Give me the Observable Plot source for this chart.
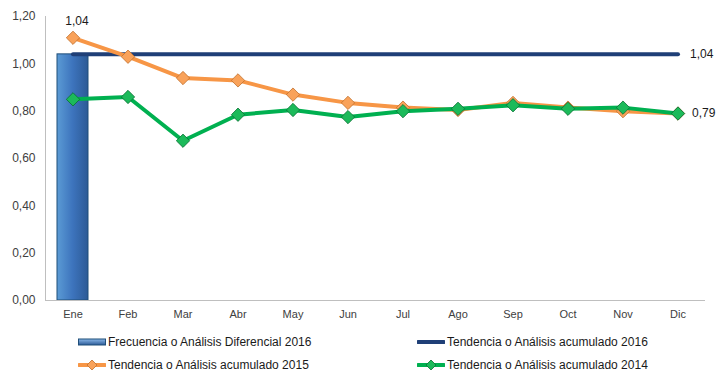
<!DOCTYPE html>
<html>
<head>
<meta charset="utf-8">
<script src="https://cdn.jsdelivr.net/npm/d3@7"></script>
<script src="https://cdn.jsdelivr.net/npm/@observablehq/plot@0.6"></script>
<style>
  html, body { margin: 0; padding: 0; background: #fff; }
  #chart { width: 721px; height: 385px; position: relative; font-family: "Liberation Sans", Arial, sans-serif; }
  .legend { position: relative; height: 55px; font-size: 12px; color: #1a1a1a; }
  .item { position: absolute; display: flex; align-items: center; white-space: nowrap; }
  .item svg { margin-right: 2px; }
</style>
</head>
<body>
<div id="chart"></div>
<script>
const months = ["Ene","Feb","Mar","Abr","May","Jun","Jul","Ago","Sep","Oct","Nov","Dic"];
const freq2016 = [1.04, null, null, null, null, null, null, null, null, null, null, null];
const acum2016 = [1.04, 1.04, 1.04, 1.04, 1.04, 1.04, 1.04, 1.04, 1.04, 1.04, 1.04, 1.04];
const acum2015 = [1.11, 1.03, 0.94, 0.93, 0.87, 0.835, 0.815, 0.805, 0.835, 0.815, 0.80, 0.79];
const acum2014 = [0.85, 0.86, 0.675, 0.785, 0.805, 0.775, 0.80, 0.81, 0.825, 0.81, 0.815, 0.79];
const yTicks = [0, 0.2, 0.4, 0.6, 0.8, 1.0, 1.2];
const seriesNames = ["Frecuencia o Análisis Diferencial 2016", "Tendencia o Análisis acumulado 2016",
                     "Tendencia o Análisis acumulado 2015", "Tendencia o Análisis acumulado 2014"];

const fmt = d => d3.format(".2f")(d).replace(".", ",");
const bars = months.map((m, i) => ({m, v: freq2016[i]})).filter(d => d.v != null);
const s16 = months.map((m, i) => ({m, v: acum2016[i]}));
const s15 = months.map((m, i) => ({m, v: acum2015[i]}));
const s14 = months.map((m, i) => ({m, v: acum2014[i]}));

const plot = Plot.plot({
  width: 721,
  height: 330,
  marginTop: 16,
  marginBottom: 30,
  marginLeft: 45,
  marginRight: 16,
  style: {fontFamily: "Liberation Sans, Arial, sans-serif", fontSize: "11px", color: "#404040", background: "#fff"},
  x: {type: "band", domain: months, paddingInner: 0.44, paddingOuter: 0.22},
  y: {domain: [0, 1.2]},
  marks: [
    Plot.barY(bars, {x: "m", y: "v", fill: "url(#barGrad)", stroke: "#1f4e79", strokeWidth: 1}),
    Plot.ruleY([0], {stroke: "#bfbfbf", strokeWidth: 1}),
    Plot.frame({anchor: "left", stroke: "#bfbfbf"}),
    Plot.axisY({ticks: yTicks, tickSize: 0, tickPadding: 10, tickFormat: fmt, fontSize: 12, label: null}),
    Plot.axisX({tickSize: 0, tickPadding: 10, label: null, fontSize: 11}),
    Plot.line(s16, {x: "m", y: "v", stroke: "#1f3f77", strokeWidth: 4, strokeLinecap: "round"}),
    Plot.line(s15, {x: "m", y: "v", stroke: "#f79646", strokeWidth: 4}),
    Plot.dot(s15, {x: "m", y: "v", symbol: "diamond2", r: 6, fill: "#f9a25a", stroke: "#c0702c", strokeWidth: 0.8}),
    Plot.line(s14, {x: "m", y: "v", stroke: "#00b050", strokeWidth: 4}),
    Plot.dot(s14, {x: "m", y: "v", symbol: "diamond2", r: 6, fill: "#1cba5a", stroke: "#0a6e33", strokeWidth: 0.8}),
    Plot.text(bars, {x: "m", y: "v", text: d => fmt(d.v), dy: -33, dx: 4, fontSize: 12, fill: "#1a1a1a"}),
    Plot.text(s16.slice(-1), {x: "m", y: "v", text: d => fmt(d.v), dx: 12, textAnchor: "start", fontSize: 12, fill: "#1a1a1a"}),
    Plot.text(s14.slice(-1), {x: "m", y: "v", text: d => fmt(d.v), dx: 14, textAnchor: "start", fontSize: 12, fill: "#1a1a1a"})
  ]
});

const svg = d3.select(plot);
const defs = svg.insert("defs", ":first-child");
const g = defs.append("linearGradient").attr("id", "barGrad").attr("x1", "0").attr("x2", "1").attr("y1", "0").attr("y2", "0");
g.append("stop").attr("offset", "0%").attr("stop-color", "#5b9bd5");
g.append("stop").attr("offset", "50%").attr("stop-color", "#3d74bd");
g.append("stop").attr("offset", "100%").attr("stop-color", "#2c5a96");

const chart = document.getElementById("chart");
chart.appendChild(plot);

const legend = document.createElement("div");
legend.className = "legend";
chart.appendChild(legend);

function sym(type, color, mfill, mstroke) {
  let s = `<svg width="28" height="10" viewBox="0 0 28 10">`;
  if (type === "bar") {
    s += `<defs><linearGradient id="lg" x1="0" x2="0" y1="0" y2="1"><stop offset="0" stop-color="#8ab8ea"/><stop offset="1" stop-color="#2c5a96"/></linearGradient></defs>`;
    s += `<rect x="0.5" y="2" width="27" height="6" fill="url(#lg)" stroke="#1f4e79" stroke-width="1"/>`;
  } else {
    s += `<line x1="1" y1="5" x2="27" y2="5" stroke="${color}" stroke-width="4" stroke-linecap="round"/>`;
    if (mfill) s += `<path d="M14,0 L19,5 L14,10 L9,5 Z" fill="${mfill}" stroke="${mstroke}" stroke-width="0.8"/>`;
  }
  return s + `</svg>`;
}
const items = [
  {name: seriesNames[0], left: 78, top: 5, html: sym("bar")},
  {name: seriesNames[1], left: 417, top: 5, html: sym("line", "#1f3f77")},
  {name: seriesNames[2], left: 78, top: 28, html: sym("line", "#f79646", "#f9a25a", "#c0702c")},
  {name: seriesNames[3], left: 417, top: 28, html: sym("line", "#00b050", "#1cba5a", "#0a6e33")}
];
for (const it of items) {
  const d = document.createElement("div");
  d.className = "item";
  d.style.left = it.left + "px";
  d.style.top = it.top + "px";
  d.innerHTML = it.html + `<span>${it.name}</span>`;
  legend.appendChild(d);
}
</script>
</body>
</html>
